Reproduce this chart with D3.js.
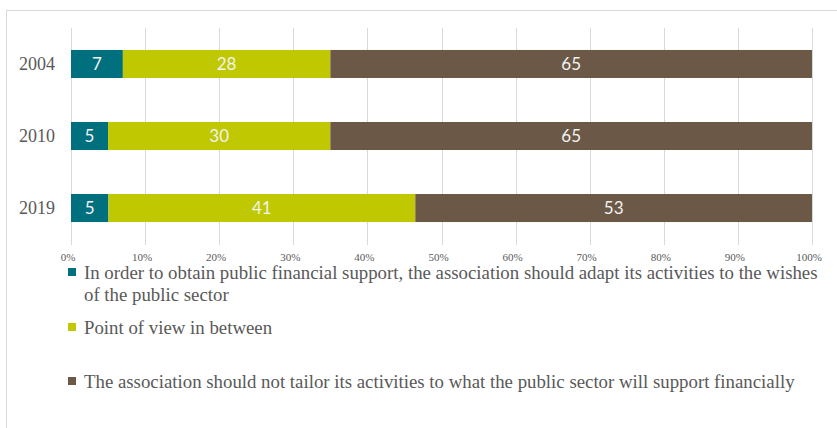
<!DOCTYPE html>
<html>
<head>
<meta charset="utf-8">
<script src="https://cdn.jsdelivr.net/npm/d3@7"></script>
<style>
  body { margin: 0; background: #fff; }
  svg { display: block; }
</style>
</head>
<body>
<div class="customChart"></div>
<script>
const years = ["2004", "2010", "2019"];
const keys = ["adapt", "between", "notTailor"];
const adapt = [7, 5, 5];
const between = [28, 30, 41];
const notTailor = [65, 65, 53];
const ticks = [0, 0.1, 0.2, 0.3, 0.4, 0.5, 0.6, 0.7, 0.8, 0.9, 1];
const legendLabels = [
	["In order to obtain public financial support, the association should adapt its activities to the wishes", "of the public sector"],
	["Point of view in between"],
	["The association should not tailor its activities to what the public sector will support financially"]
];
const colors = ["#00707f", "#bfc800", "#6b5846"];

const data = years.map((y, i) => ({year: y, adapt: adapt[i], between: between[i], notTailor: notTailor[i]}));

const W = 837, H = 428;
const svg = d3.select('.customChart')
	.append('svg')
	.attr('width', W)
	.attr('height', H);

// chart border
svg.append("rect")
	.attr("x", 6.5).attr("y", 10.5)
	.attr("width", W).attr("height", H)
	.attr("fill", "none")
	.attr("stroke", "#d9d9d9");

const xScale = d3.scaleLinear().domain([0, 1]).range([71, 812]);
const yScale = d3.scaleBand().domain(years).range([28, 244])
	.paddingInner(0.611).paddingOuter(0.305);

const series = d3.stack().keys(keys).offset(d3.stackOffsetExpand)(data);

// gridlines
svg.append("g")
	.selectAll("line")
	.data(ticks)
	.join("line")
	.attr("x1", d => Math.round(xScale(d)) + 0.5)
	.attr("x2", d => Math.round(xScale(d)) + 0.5)
	.attr("y1", 28)
	.attr("y2", 245)
	.attr("stroke", "#d9d9d9");

// bars
const groups = svg.append("g")
	.selectAll("g")
	.data(series)
	.join("g")
	.attr("fill", (d, i) => colors[i]);

groups.selectAll("rect")
	.data(d => d)
	.join("rect")
	.attr("x", d => xScale(d[0]))
	.attr("y", d => yScale(d.data.year))
	.attr("width", d => xScale(d[1]) - xScale(d[0]))
	.attr("height", yScale.bandwidth());

// bar labels
groups.each(function(s) {
	d3.select(this).selectAll("text")
		.data(s)
		.join("text")
		.attr("x", d => (xScale(d[0]) + xScale(d[1])) / 2)
		.attr("y", d => yScale(d.data.year) + yScale.bandwidth() / 2)
		.attr("dy", "0.36em")
		.attr("text-anchor", "middle")
		.attr("fill", "#f2f2f2")
		.attr("font-family", "Lato, 'Open Sans', sans-serif")
		.attr("font-size", 17)
		.text(d => d.data[s.key]);
});

// year labels
svg.append("g")
	.selectAll("text")
	.data(years)
	.join("text")
	.attr("x", 55)
	.attr("y", d => yScale(d) + yScale.bandwidth() / 2)
	.attr("dy", "0.35em")
	.attr("text-anchor", "end")
	.attr("fill", "#595959")
	.attr("font-family", "'Liberation Serif', serif")
	.attr("font-size", 18)
	.text(d => d);

// x tick labels
svg.append("g")
	.selectAll("text")
	.data(ticks)
	.join("text")
	.attr("x", d => xScale(d) - 3)
	.attr("y", 261)
	.attr("text-anchor", "middle")
	.attr("fill", "#595959")
	.attr("font-family", "'Liberation Serif', serif")
	.attr("font-size", 11)
	.text(d => d3.format(".0%")(d));

// legend
const legendY = [279, 334, 388];
const legend = svg.append("g")
	.attr("font-family", "'Liberation Serif', serif")
	.attr("fill", "#595959");

legendLabels.forEach((lines, i) => {
	legend.append("rect")
		.attr("x", 68)
		.attr("y", legendY[i] - 11)
		.attr("width", 8)
		.attr("height", 8)
		.attr("fill", colors[i]);
	lines.forEach((t, j) => {
		legend.append("text")
			.attr("class", "leg")
			.attr("x", 84)
			.attr("y", legendY[i] + j * 22)
			.attr("font-size", 16)
			.text(t);
	});
});

// fit the long first line to its width in the reference
const first = legend.select("text.leg");
const len = first.node().getComputedTextLength();
const fs = 16 * 734 / len;
legend.selectAll("text.leg").attr("font-size", fs);
</script>
</body>
</html>
